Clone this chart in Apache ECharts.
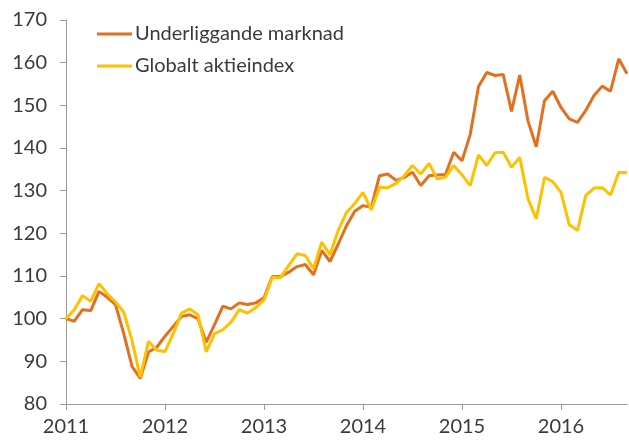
<!DOCTYPE html>
<html><head><meta charset="utf-8">
<script src="https://cdn.jsdelivr.net/npm/echarts@6/dist/echarts.min.js"></script>
<style>html,body{margin:0;padding:0;background:#fff}#c{width:629px;height:441px}</style>
</head><body><div id="c"></div>
<script>
const yearLabels = ['2011','2012','2013','2014','2015','2016'];
const seriesNames = ['Underliggande marknad','Globalt aktieindex'];
const underliggande = [
 100,99.4,102.1,101.9,106.4,105,103.3,96.5,88.8,86,92.2,93.3,
 95.9,98.2,100.5,100.9,100,94.5,98.6,102.9,102.3,103.7,103.3,103.7,
 104.9,109.9,109.9,110.9,112.2,112.7,110.3,116,113.4,117.5,121.8,125.2,
 126.5,126.1,133.5,133.9,132.4,133.1,134.3,131.2,133.5,133.7,133.8,139,
 137,143.2,154.4,157.7,157,157.2,148.6,157.1,146.3,140.3,151.1,153.3,
 149.5,146.8,146,148.8,152.3,154.5,153.3,160.9,157.4
];
const globalt = [
 100,102.1,105.4,104.1,108.2,105.8,103.9,101.5,94.9,86.3,94.7,92.6,
 92.3,96.5,101.3,102.3,100.9,92.2,96.5,97.4,99.2,102.1,101.3,102.6,
 104.4,109.7,109.6,112.5,115.2,114.8,111.7,117.9,115,120.7,124.9,127,
 129.6,125.5,130.8,130.7,131.7,133.5,135.9,133.9,136.4,132.7,133.2,135.9,
 133.7,131.2,138.4,135.9,138.9,139,135.5,137.8,128.1,123.4,133.1,132.1,
 129.6,122,120.7,128.9,130.6,130.7,129,134.3,134.2
];
const months = underliggande.map((_, i) => yearLabels[Math.floor(i/12)] + '-' + String(i%12+1).padStart(2,'0'));
const FONT = 'Lato';
const TXT = '#3a3a3a';
const chart = echarts.init(document.getElementById('c'), null, {renderer:'canvas'});
chart.setOption({
  animation:false,
  textStyle:{fontFamily:FONT},
  grid:{left:66,right:2,top:20,bottom:37},
  legend:{
    orient:'vertical', left:92, top:19, itemGap:12,
    itemWidth:35, itemHeight:3, icon:'rect',
    textStyle:{fontFamily:FONT,fontSize:20,color:TXT,padding:[0,0,0,-2]},
    data:seriesNames
  },
  xAxis:{
    type:'category', data:months, boundaryGap:false,
    axisLine:{lineStyle:{color:'#999',width:1}},
    axisTick:{show:true,length:6,interval:(i)=>i%12===0,lineStyle:{color:'#999'}},
    axisLabel:{interval:(i)=>i%12===0,formatter:(v)=>v.slice(0,4),fontFamily:FONT,fontSize:20,color:TXT,margin:13},
    splitLine:{show:false}
  },
  yAxis:{
    type:'value', min:80, max:170, interval:10,
    axisLine:{show:true,lineStyle:{color:'#999',width:1}},
    axisTick:{show:true,length:6,lineStyle:{color:'#999'}},
    axisLabel:{fontFamily:FONT,fontSize:20,color:TXT,margin:19},
    splitLine:{show:false}
  },
  series:[
    {name:seriesNames[0],type:'line',data:underliggande,showSymbol:false,symbol:'none',
     lineStyle:{color:'#E2701E',width:3},itemStyle:{color:'#E2701E'}},
    {name:seriesNames[1],type:'line',data:globalt,showSymbol:false,symbol:'none',
     lineStyle:{color:'#FFC000',width:3},itemStyle:{color:'#FFC000'}}
  ]
});
</script></body></html>
